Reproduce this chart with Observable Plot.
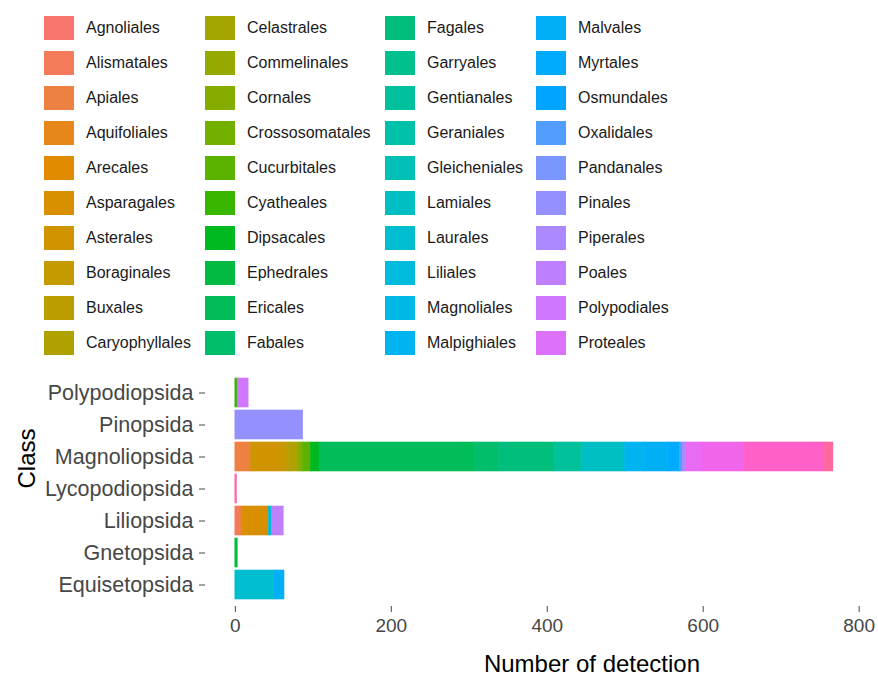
<!DOCTYPE html>
<html><head><meta charset="utf-8">
<script src="https://cdn.jsdelivr.net/npm/d3@7"></script>
<script src="https://cdn.jsdelivr.net/npm/@observablehq/plot@0.6"></script>
<style>
body{margin:0;background:#fff;font-family:"Liberation Sans",Arial,sans-serif;}
#wrap{position:relative;width:878px;height:676px;background:#fff;}
#legend{position:absolute;left:0;top:0;width:878px;height:360px;}
.item{position:absolute;height:24px;display:flex;align-items:center;}
.sw{width:30px;height:24px;flex:none;}
.lab{margin-left:12px;font-size:16px;color:#1a1a1a;white-space:nowrap;}
#chart{position:absolute;left:0;top:360px;}
</style></head><body>
<div id="wrap"><div id="legend"></div><div id="chart"></div></div>
<script>
// Classes, top to bottom
const classes = ["Polypodiopsida","Pinopsida","Magnoliopsida","Lycopodiopsida","Liliopsida","Gnetopsida","Equisetopsida"];

// All orders of the fill scale (legend in the figure shows the first 40)
const orders = ["Agnoliales","Alismatales","Apiales","Aquifoliales","Arecales","Asparagales","Asterales","Boraginales","Buxales","Caryophyllales",
  "Celastrales","Commelinales","Cornales","Crossosomatales","Cucurbitales","Cyatheales","Dipsacales","Ephedrales","Ericales","Fabales",
  "Fagales","Garryales","Gentianales","Geraniales","Gleicheniales","Lamiales","Laurales","Liliales","Magnoliales","Malpighiales",
  "Malvales","Myrtales","Osmundales","Oxalidales","Pandanales","Pinales","Piperales","Poales","Polypodiales","Proteales",
  "Ranunculales","Rosales","Salviniales","Santalales","Sapindales","Saxifragales","Selaginellales","Solanales","Vitales","Zingiberales"];
const legendCount = 40;

// Stacked segments (class, order, number of detections)
const segmentClass = [
  "Polypodiopsida","Polypodiopsida",
  "Pinopsida",
  "Magnoliopsida","Magnoliopsida","Magnoliopsida","Magnoliopsida","Magnoliopsida","Magnoliopsida","Magnoliopsida","Magnoliopsida",
  "Magnoliopsida","Magnoliopsida","Magnoliopsida","Magnoliopsida","Magnoliopsida","Magnoliopsida","Magnoliopsida","Magnoliopsida",
  "Magnoliopsida","Magnoliopsida","Magnoliopsida","Magnoliopsida","Magnoliopsida",
  "Lycopodiopsida",
  "Liliopsida","Liliopsida","Liliopsida","Liliopsida",
  "Gnetopsida",
  "Equisetopsida","Equisetopsida"];
const segmentOrder = [
  "Cyatheales","Polypodiales",
  "Pinales",
  "Apiales","Asterales","Boraginales","Caryophyllales","Cornales","Cucurbitales","Dipsacales","Ericales",
  "Fabales","Fagales","Gentianales","Lamiales","Malpighiales","Malvales","Myrtales","Oxalidales",
  "Piperales","Ranunculales","Rosales","Sapindales","Solanales",
  "Selaginellales",
  "Alismatales","Asparagales","Liliales","Poales",
  "Ephedrales",
  "Laurales","Malvales"];
const segmentCount = [
  3,14,
  87,
  20,39,10,12,6,10,11,199,
  31,72,35,55,25,30,15,4,
  4,20,54,104,11,
  2,
  8,35,4,15,
  3,
  50,13];

const xTicks = [0,200,400,600,800];

// ggplot2 default hue palette: hcl(h, c = 100, l = 65), polar LUV -> sRGB
function hclHex(h, c, l) {
  const hr = h * Math.PI / 180;
  const U = c * Math.cos(hr), V = c * Math.sin(hr);
  const Xn = 95.047, Yn = 100, Zn = 108.883;
  const Y = l > 8 ? Yn * Math.pow((l + 16) / 116, 3) : Yn * l / 903.3;
  const den = Xn + 15 * Yn + 3 * Zn;
  const un = 4 * Xn / den, vn = 9 * Yn / den;
  const u = U / (13 * l) + un, v = V / (13 * l) + vn;
  const X = 9 * Y * u / (4 * v);
  const Z = -X / 3 - 5 * Y + 3 * Y / v;
  const lin = [
    ( 3.240479 * X - 1.537150 * Y - 0.498535 * Z) / 100,
    (-0.969256 * X + 1.875992 * Y + 0.041556 * Z) / 100,
    ( 0.055648 * X - 0.204043 * Y + 1.057311 * Z) / 100];
  const g = lin.map(x => {
    const s = x <= 0.0031308 ? 12.92 * x : 1.055 * Math.pow(x, 1 / 2.4) - 0.055;
    return Math.round(Math.max(0, Math.min(1, s)) * 255);
  });
  return "#" + g.map(x => x.toString(16).padStart(2, "0")).join("");
}
const colors = orders.map((d, i) => hclHex(15 + 360 * i / orders.length, 100, 65));

// Legend (4 columns x 10 rows)
const legend = document.getElementById("legend");
const colX = [44, 205, 385, 536];
orders.slice(0, legendCount).forEach((name, i) => {
  const col = Math.floor(i / 10), row = i % 10;
  const it = document.createElement("div");
  it.className = "item";
  it.style.left = colX[col] + "px";
  it.style.top = (16 + row * 35) + "px";
  const sw = document.createElement("div");
  sw.className = "sw";
  sw.style.background = colors[i];
  const lab = document.createElement("span");
  lab.className = "lab";
  lab.textContent = name;
  it.appendChild(sw); it.appendChild(lab);
  legend.appendChild(it);
});

const data = segmentClass.map((c, i) => ({cls: c, order: segmentOrder[i], count: segmentCount[i]}));

const chart = Plot.plot({
  width: 878, height: 316,
  marginLeft: 205, marginRight: 16, marginTop: 10, marginBottom: 70,
  style: {fontFamily: "'Liberation Sans', Arial, sans-serif", background: "white"},
  x: {domain: [-38.3, 804.3]},
  y: {domain: classes, paddingInner: 0.1, paddingOuter: 0.15},
  color: {domain: orders, range: colors},
  marks: [
    Plot.barX(data, {x: "count", y: "cls", fill: "order", stroke: "order", strokeWidth: 0.6}),
    Plot.axisX({ticks: xTicks, tickSize: 6, tickPadding: 6, fontSize: 19, label: null, color: "#474747"}),
    Plot.axisY({tickSize: 6, tickPadding: 6, fontSize: 21.5, label: null, color: "#474747"}),
    Plot.text(["Number of detection"], {text: d => d, frameAnchor: "bottom", dx: 58, dy: 65, fontSize: 24, fill: "#000"}),
    Plot.text(["Class"], {text: d => d, frameAnchor: "left", dx: -178, rotate: -90, fontSize: 24, fill: "#000"})
  ]
});
document.getElementById("chart").appendChild(chart);
</script>
</body></html>
